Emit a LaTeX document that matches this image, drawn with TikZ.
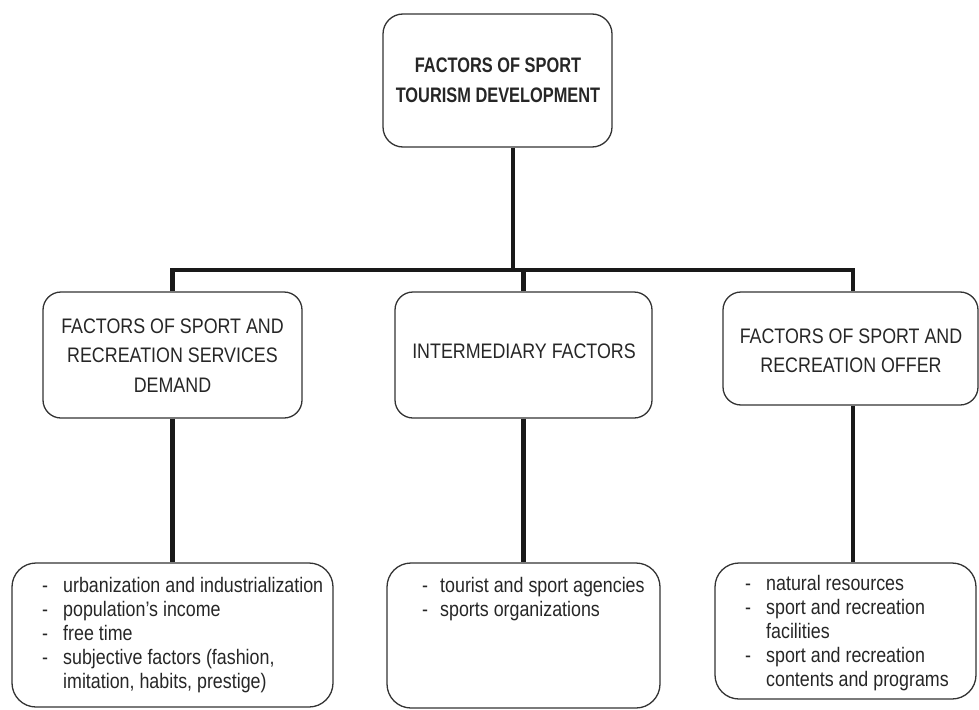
\documentclass[tikz,border=0pt]{standalone}
\usepackage{fontspec}
\setmainfont{Liberation Sans}[FakeStretch=0.85]
\newfontfamily\headfont{Liberation Sans}[FakeStretch=0.78]
\tikzset{
  box/.style={draw=black!80, line width=1.3pt, rounded corners=18pt, inner sep=0pt},
  conn/.style={draw=black!90, line width=4.5pt, line join=miter},
  headtxt/.style={anchor=base, inner sep=0pt, text=black!85, font=\headfont\bfseries\fontsize{21}{29}\selectfont},
  midtxt/.style={anchor=base, inner sep=0pt, text=black!85, font=\fontsize{21}{29.5}\selectfont},
  listtxt/.style={anchor=base west, inner sep=0pt, text=black!85, font=\fontsize{21}{24}\selectfont},
}
\newcommand{\itmA}[1]{\makebox[21pt][l]{-}&#1\\}
\newcommand{\itmB}[1]{\makebox[18pt][l]{-}&#1\\}
\begin{document}
\begin{tikzpicture}[x=1pt,y=-1pt]
\useasboundingbox (0,0) rectangle (979,709);
% boxes
\node[box, rounded corners=20pt, minimum width=229pt, minimum height=133pt] (top) at (497.5,80.5) {};
\node[box, minimum width=259pt, minimum height=126pt] (midL) at (172.5,355) {};
\node[box, minimum width=257pt, minimum height=126pt] (midM) at (523.5,355) {};
\node[box, minimum width=255pt, minimum height=113pt] (midR) at (850.5,348.5) {};
\node[box, rounded corners=24pt, minimum width=321pt, minimum height=144pt] (botL) at (172.5,635) {};
\node[box, rounded corners=24pt, minimum width=273pt, minimum height=145pt] (botM) at (523.5,635.5) {};
\node[box, rounded corners=24pt, minimum width=261pt, minimum height=136pt] (botR) at (845.5,631) {};
% texts
\node[headtxt] (topT) at (498,73) {\begin{tabular}[t]{@{}c@{}}FACTORS OF SPORT\\TOURISM DEVELOPMENT\end{tabular}};
\node[midtxt] (midLT) at (172.5,333) {\begin{tabular}[t]{@{}c@{}}FACTORS OF SPORT AND\\RECREATION SERVICES\\DEMAND\end{tabular}};
\node[midtxt] (midMT) at (524,358) {INTERMEDIARY FACTORS};
\node[midtxt] (midRT) at (851,343) {\begin{tabular}[t]{@{}c@{}}FACTORS OF SPORT AND\\RECREATION OFFER\end{tabular}};
\node[listtxt] (botLT) at (42,592) {\begin{tabular}[t]{@{}l@{}l@{}}
\itmA{urbanization and industrialization}
\itmA{population’s income}
\itmA{free time}
\itmA{subjective factors (fashion,}
&imitation, habits, prestige)
\end{tabular}};
\node[listtxt] (botMT) at (422,592) {\begin{tabular}[t]{@{}l@{}l@{}}
\itmB{tourist and sport agencies}
\itmB{sports organizations}
\end{tabular}};
\node[listtxt] (botRT) at (745,590) {\begin{tabular}[t]{@{}l@{}l@{}}
\itmA{natural resources}
\itmA{sport and recreation}
&facilities\\
\itmA{sport and recreation}
&contents and programs
\end{tabular}};
% connectors
\coordinate (bar) at (0,270);
\draw[conn] ([xshift=15.5pt]top.south) -- ([xshift=15.5pt]top.south |- bar);
\draw[conn] (midL.north) -- (midL.north |- bar) -- ([xshift=2.5pt]midR.north |- bar) -- ([xshift=2.5pt]midR.north);
\draw[conn] (midM.north) -- (midM.north |- bar);
\draw[conn] (midL.south) -- (botL.north);
\draw[conn] (midM.south) -- (botM.north);
\draw[conn] ([xshift=2.5pt]midR.south) -- ([xshift=2.5pt]midR.south |- botR.north);
\end{tikzpicture}
\end{document}
